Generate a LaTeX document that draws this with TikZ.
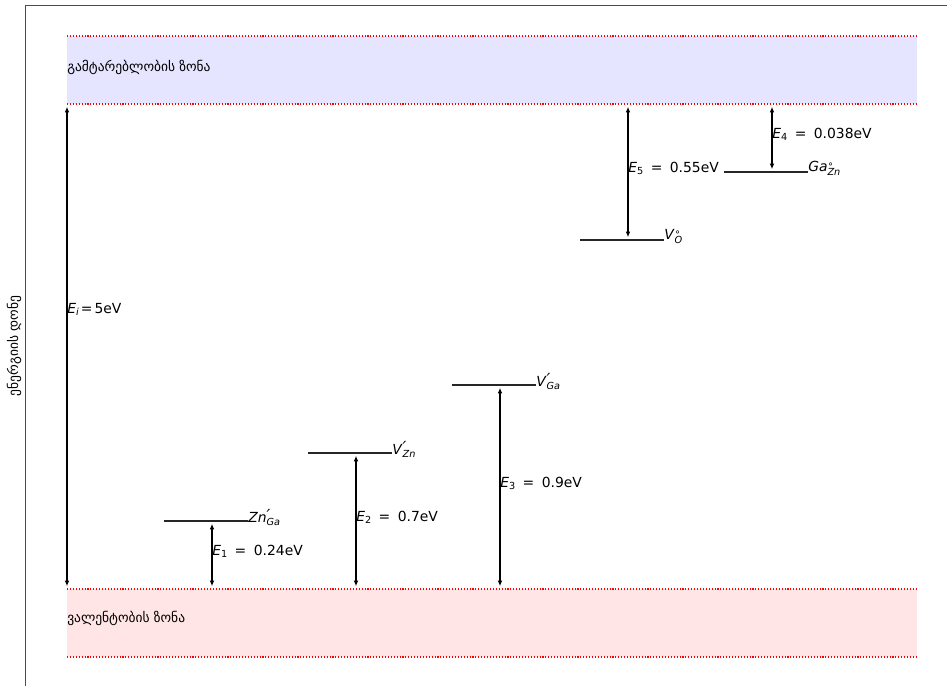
\documentclass[tikz,border=0pt]{standalone}
\usepackage{fontspec}
\setmainfont{DejaVu Sans}
\usetikzlibrary{arrows.meta}
\definecolor{cbfill}{HTML}{E5E5FF}
\definecolor{vbfill}{HTML}{FFE5E5}
\newcommand{\lvlab}[3]{\textit{#1}\makebox[0pt][l]{\raisebox{0.1ex}{\fontsize{12}{12}\selectfont\itshape #2}}\raisebox{-0.45ex}{\fontsize{7}{7}\selectfont\textit{#3}}}
\newcommand{\elab}[2]{\textit{E}\raisebox{-0.35ex}{\fontsize{7}{7}\selectfont #1}\hspace{5.4pt}=\hspace{5.4pt}#2}
\begin{document}
\begin{tikzpicture}[x=0.72pt,y=-0.72pt,
  every node/.style={font=\fontsize{10}{12}\selectfont, inner sep=0pt},
  geo/.style={font=\fontsize{9.7}{12}\selectfont},
  banddot/.style={red, line width=0.8pt, dash pattern=on 0.8pt off 1.3pt},
  frameline/.style={black!70, line width=0.6pt},
  level/.style={black!85, line width=0.9pt},
  gap/.style={{Latex[length=4pt,width=3.4pt]}-{Latex[length=4pt,width=3.4pt]}, line width=0.9pt, shorten <=2pt, shorten >=2pt},
  lvltext/.style={anchor=west, yshift=2.5pt},
  etext/.style={anchor=base west}]
\useasboundingbox (0,0) rectangle (947,686);
% bands
\fill[cbfill] (67,36) rectangle (917,104);
\fill[vbfill] (67,589) rectangle (917,657);
\draw[banddot] (67,36) -- (917,36);
\draw[banddot] (67,104) -- (917,104);
\draw[banddot] (67,589) -- (917,589);
\draw[banddot] (67,657) -- (917,657);
\node[geo, anchor=west] (cbtext) at (67,67) {გამტარებლობის ზონა};
\node[geo, anchor=west] (vbtext) at (67,618) {ვალენტობის ზონა};
% frame
\draw[frameline] (25,686) -- (25,5) -- (947,5);
\node[geo, rotate=90] (ylab) at (14,346) {ენერგიის დონე};
% band edge coordinates
\coordinate (cbI) at (67,104);  \coordinate (vbI) at (67,589);
\coordinate (vb1) at (212,589); \coordinate (vb2) at (356,589); \coordinate (vb3) at (500,589);
\coordinate (cb5) at (628,104); \coordinate (cb4) at (772,104);
% levels
\coordinate (l1a) at (164,521); \coordinate (l1) at (212,521); \coordinate (l1b) at (248,521);
\coordinate (l2a) at (308,453); \coordinate (l2) at (356,453); \coordinate (l2b) at (392,453);
\coordinate (l3a) at (452,385); \coordinate (l3) at (500,385); \coordinate (l3b) at (536,385);
\coordinate (l5a) at (580,240); \coordinate (l5) at (628,240); \coordinate (l5b) at (664,240);
\coordinate (l4a) at (724,172); \coordinate (l4) at (772,172); \coordinate (l4b) at (808,172);
\draw[level] (l1a) -- (l1b);
\draw[level] (l2a) -- (l2b);
\draw[level] (l3a) -- (l3b);
\draw[level] (l5a) -- (l5b);
\draw[level] (l4a) -- (l4b);
\node[lvltext] (n1) at (l1b) {\lvlab{Zn}{\char"2032}{Ga}};
\node[lvltext] (n2) at (l2b) {\lvlab{V}{\char"2032}{Zn}};
\node[lvltext] (n3) at (l3b) {\lvlab{V}{\char"2032}{Ga}};
\node[lvltext] (n5) at (l5b) {\textit{V}\makebox[0pt][l]{\raisebox{0.6ex}{\fontsize{7}{7}\selectfont ∘}}\raisebox{-0.45ex}{\fontsize{7}{7}\selectfont\textit{O}}};
\node[lvltext] (n4) at (l4b) {\textit{Ga}\makebox[0pt][l]{\raisebox{0.6ex}{\fontsize{7}{7}\selectfont ∘}}\raisebox{-0.45ex}{\fontsize{7}{7}\selectfont\textit{Zn}}};
% arrows
\draw[gap] (vbI) -- (cbI);
\draw[gap] (vb1) -- (l1);
\draw[gap] (vb2) -- (l2);
\draw[gap] (vb3) -- (l3);
\draw[gap] (cb5) -- (l5);
\draw[gap] (cb4) -- (l4);
% energy labels
\node[etext] (ei) at (67,313) {\textit{E}\raisebox{-0.35ex}{\fontsize{7}{7}\selectfont\textit{i}}\hspace{1.5pt}=\hspace{1.5pt}5eV};
\node[etext] (e1) at (212,555) {\elab{1}{0.24eV}};
\node[etext] (e2) at (356,521) {\elab{2}{0.7eV}};
\node[etext] (e3) at (500,487) {\elab{3}{0.9eV}};
\node[etext] (e5) at (628,172) {\elab{5}{0.55eV}};
\node[etext] (e4) at (772,138) {\elab{4}{0.038eV}};
\end{tikzpicture}
\end{document}
